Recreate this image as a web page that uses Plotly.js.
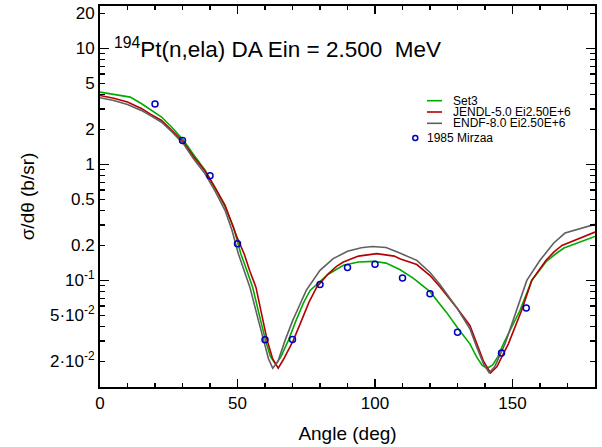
<!DOCTYPE html>
<html>
<head>
<meta charset="utf-8">
<script src="https://cdn.plot.ly/plotly-3.0.1.min.js"></script>
<style>html,body{margin:0;padding:0;background:#fff;}#chart{width:602px;height:447px;}</style>
</head>
<body>
<div id="chart"></div>
<script>
// ---- data ----
var set3X = [0, 11, 15, 20, 22.4, 26, 30.3, 34, 38.2, 42, 45.5, 48.5, 51.2, 53.5, 55.5, 58.4, 60.2, 62, 63.9, 65.8, 68.5, 71.3, 74, 76.4, 80, 83, 88.5, 94, 99.4, 104, 109, 114, 120, 126, 130, 134.5, 137, 139, 140.8, 142.8, 144.7, 146.7, 152.7, 157, 162.2, 165.5, 168.7, 180];
var set3Y = [4.20, 3.80, 3.35, 2.82, 2.56, 2.10, 1.62, 1.22, 0.89, 0.62, 0.43, 0.29, 0.17, 0.12, 0.0875, 0.0452, 0.0304, 0.022, 0.0189, 0.022, 0.0304, 0.0452, 0.064, 0.082, 0.097, 0.113, 0.135, 0.144, 0.146, 0.141, 0.124, 0.104, 0.080, 0.053, 0.039, 0.0284, 0.0218, 0.0185, 0.0175, 0.0187, 0.022, 0.0284, 0.055, 0.10, 0.145, 0.168, 0.19, 0.239];

var jendlX = [0, 5, 10, 15.2, 18.5, 22.4, 26, 30.3, 34, 38.2, 42, 45.5, 47.3, 50, 52.4, 54.5, 56.7, 59.4, 60.8, 62.8, 64.8, 66.8, 70.3, 73.3, 76, 78.8, 83, 86, 88.5, 94, 100.6, 107, 109, 115.2, 120, 123.6, 130, 134.5, 137, 139.5, 142, 144.3, 148.5, 153.3, 157, 162.2, 165, 168, 180];
var jendlY = [3.93, 3.72, 3.45, 3.02, 2.70, 2.39, 1.98, 1.56, 1.17, 0.877, 0.62, 0.443, 0.34, 0.23, 0.170, 0.12, 0.0875, 0.0452, 0.0304, 0.021, 0.0175, 0.021, 0.0304, 0.0452, 0.065, 0.0875, 0.114, 0.132, 0.144, 0.162, 0.170, 0.162, 0.154, 0.137, 0.110, 0.088, 0.057, 0.0409, 0.0284, 0.020, 0.0159, 0.018, 0.0284, 0.055, 0.10, 0.149, 0.175, 0.20, 0.261];

var endfX = [0, 5, 10, 15, 18.5, 22.4, 26, 30.3, 34, 38.2, 42, 45.5, 48, 50.3, 52.5, 54.5, 57.6, 59.6, 61.3, 62.8, 64.7, 67.3, 70.1, 72.7, 75, 80, 84.8, 90, 95, 99, 104, 109, 115.2, 120, 123.6, 130, 134.5, 137, 139.5, 141.5, 143.5, 147.3, 151.3, 155.2, 160, 165, 169.1, 180];
var endfY = [3.76, 3.55, 3.28, 2.92, 2.62, 2.31, 1.92, 1.51, 1.12, 0.83, 0.58, 0.40, 0.27, 0.170, 0.12, 0.0875, 0.0452, 0.0304, 0.021, 0.0175, 0.020, 0.0304, 0.0452, 0.062, 0.082, 0.122, 0.154, 0.178, 0.191, 0.196, 0.192, 0.172, 0.149, 0.117, 0.092, 0.057, 0.0383, 0.0266, 0.019, 0.016, 0.018, 0.0284, 0.055, 0.10, 0.149, 0.21, 0.256, 0.304];

var expX = [20, 30, 40, 50, 60, 70, 80, 90, 100, 110, 120, 130, 146, 155];
var expY = [3.31, 1.61, 0.80, 0.207, 0.0308, 0.0310, 0.0924, 0.129, 0.138, 0.105, 0.0768, 0.0358, 0.0237, 0.0577];

var seriesNames = ["Set3", "JENDL-5.0 Ei2.50E+6", "ENDF-8.0 Ei2.50E+6", "1985 Mirzaa"];
var seriesColors = ["#00aa00", "#b40000", "#606060", "#0000c0"];

var yLabelVals = [20, 10, 5, 2, 1, 0.5, 0.2, 0.1, 0.05, 0.02];
var yLabelText = ["20", "10", "5", "2", "1", "0.5", "0.2", "10<sup>-1</sup>", "5\u00b710<sup>-2</sup>", "2\u00b710<sup>-2</sup>"];
var yMinorVals = [0.03, 0.04, 0.06, 0.07, 0.08, 0.09, 0.3, 0.4, 0.6, 0.7, 0.8, 0.9, 3, 4, 6, 7, 8, 9];
var yDecadeVals = [0.1, 1, 10];
var xTickVals = [0, 50, 100, 150];
var xMinorVals = [10, 20, 30, 40, 60, 70, 80, 90, 110, 120, 130, 140, 160, 170];

var titleText = "<sup>194</sup>Pt(n,ela) DA Ein = 2.500&nbsp;&nbsp;MeV";

// ---- build ----
var FONT = "Liberation Sans, Arial, Helvetica, sans-serif";
var yRange = [Math.log10(0.01205), Math.log10(23.2)];
var xRange = [0, 180];

var yAllVals = yLabelVals.concat(yMinorVals);
var yAllText = yLabelText.concat(yMinorVals.map(function () { return " "; }));
var xAllVals = xTickVals.concat(xMinorVals);
var xAllText = xTickVals.map(String).concat(xMinorVals.map(function () { return " "; }));

var traces = [
  {x: set3X, y: set3Y, mode: "lines", name: seriesNames[0], line: {color: seriesColors[0], width: 1.6}},
  {x: jendlX, y: jendlY, mode: "lines", name: seriesNames[1], line: {color: seriesColors[1], width: 1.6}},
  {x: endfX, y: endfY, mode: "lines", name: seriesNames[2], line: {color: seriesColors[2], width: 1.6}},
  {x: expX, y: expY, mode: "markers", name: seriesNames[3],
   marker: {symbol: "circle-open", size: 6, color: seriesColors[3], line: {width: 1.5, color: seriesColors[3]}}},
  {x: [0], y: [1], xaxis: "x", yaxis: "y2", mode: "markers", marker: {opacity: 0}, showlegend: false, hoverinfo: "skip"},
  {x: [0], y: [1], xaxis: "x2", yaxis: "y", mode: "markers", marker: {opacity: 0}, showlegend: false, hoverinfo: "skip"}
];

function px2x(p) { return (p - 100) / 495; }
function py2y(p) { return (387 - p) / 381; }
var shapes = [];
var annotations = [];
var legRows = [100.7, 112, 123.3];
for (var i = 0; i < 3; i++) {
  shapes.push({type: "line", xref: "paper", yref: "paper", x0: px2x(427), x1: px2x(442), y0: py2y(legRows[i]), y1: py2y(legRows[i]),
               line: {color: seriesColors[i], width: 1.6}});
  annotations.push({xref: "paper", yref: "paper", x: px2x(451), y: py2y(legRows[i]), xanchor: "left", yanchor: "middle",
                    text: seriesNames[i], showarrow: false, font: {family: FONT, size: 12, color: "#000"}});
}
shapes.push({type: "circle", xref: "paper", yref: "paper", x0: px2x(412.8), x1: px2x(417.8), y0: py2y(140.5), y1: py2y(135.5),
             line: {color: seriesColors[3], width: 1.5}});
annotations.push({xref: "paper", yref: "paper", x: px2x(425), y: py2y(138), xanchor: "left", yanchor: "middle",
                  text: seriesNames[3], showarrow: false, font: {family: FONT, size: 12, color: "#000"}});
annotations.push({xref: "paper", yref: "paper", x: px2x(112), y: py2y(48.5), xanchor: "left", yanchor: "middle",
                  text: titleText, showarrow: false, font: {family: FONT, size: 22.5, color: "#000"}});

var tickStyle = {ticks: "inside", tickwidth: 1.5, tickcolor: "#000", showgrid: false, zeroline: false};
function ext(a, b) { var o = {}; for (var k in a) o[k] = a[k]; for (var k2 in b) o[k2] = b[k2]; return o; }

var layout = {
  width: 602, height: 447,
  margin: {l: 100, r: 7, t: 6, b: 60, pad: 0},
  paper_bgcolor: "#fff", plot_bgcolor: "#fff",
  showlegend: false,
  font: {family: FONT, size: 17, color: "#000"},
  xaxis: ext(tickStyle, {
    range: xRange, tickmode: "array", tickvals: xAllVals, ticktext: xAllText, ticklen: 4,
    showline: true, linewidth: 2, linecolor: "#000", mirror: "ticks",
    tickfont: {family: FONT, size: 17},
    title: {text: "Angle (deg)", font: {family: FONT, size: 19}, standoff: 14}
  }),
  xaxis2: ext(tickStyle, {
    range: xRange, overlaying: "x", side: "bottom", anchor: "y",
    tickmode: "array", tickvals: xTickVals, ticklen: 8, showticklabels: false,
    showline: false, mirror: "ticks"
  }),
  yaxis: ext(tickStyle, {
    type: "log", range: yRange, tickmode: "array", tickvals: yAllVals, ticktext: yAllText, ticklen: 5,
    showline: true, linewidth: 2, linecolor: "#000", mirror: "ticks",
    tickfont: {family: FONT, size: 17},
    title: {text: "\u03c3/d\u03b8 (b/sr)", font: {family: FONT, size: 19}, standoff: 10}
  }),
  yaxis2: ext(tickStyle, {
    type: "log", range: yRange, overlaying: "y", side: "left", anchor: "x",
    tickmode: "array", tickvals: yDecadeVals, ticklen: 9, showticklabels: false,
    showline: false, mirror: "ticks"
  }),
  shapes: shapes,
  annotations: annotations
};

Plotly.newPlot("chart", traces, layout, {displayModeBar: false, staticPlot: true});
</script>
</body>
</html>
